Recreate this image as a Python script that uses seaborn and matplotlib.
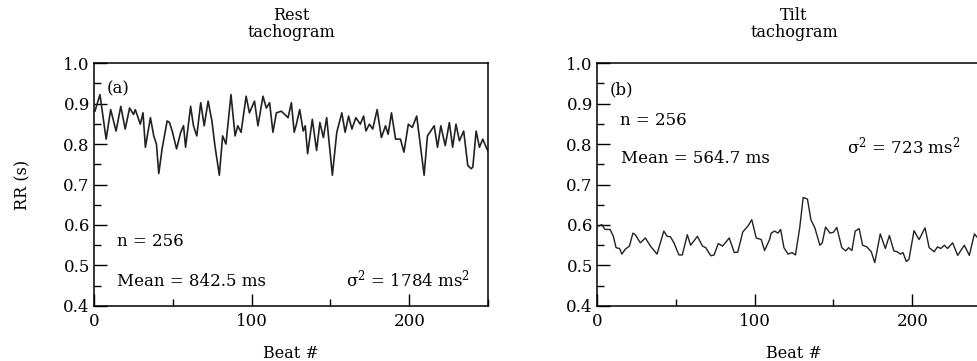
import matplotlib
matplotlib.use("Agg")
import matplotlib.pyplot as plt
from matplotlib.ticker import MultipleLocator, FormatStrFormatter
import seaborn as sns

# RR intervals (s), beat index vs value
rest_beat = [0.6, 3.8, 7.7, 10.6, 14, 17, 19.8, 22.6, 25.1, 26.2, 29.4, 31.1, 32.6,
             35.8, 37.9, 39.6, 41.1, 43.2, 46.4, 47.9, 49.6, 52.4, 55, 56.8, 58.1,
             61.3, 63.1, 65.2, 67.7, 69.9, 72.4, 74.8, 76.7, 79.5, 81.6, 83.7, 86.9,
             89.5, 91.2, 93.3, 96.5, 98.6, 101.8, 104, 107.2, 109.3, 111.4, 113.5,
             115.7, 118.8, 121, 123.1, 125.2, 127, 128.4, 130.5, 132.7, 134, 135.5,
             138.5, 141.2, 143.3, 145.5, 147.6, 151.2, 154, 157.2, 159.3, 161.5,
             163.6, 166.1, 168.9, 171, 172.5, 174.7, 176.8, 179.6, 182.3, 184.9,
             186.6, 188.7, 191.3, 194.4, 196.6, 199.4, 201.9, 204.7, 209.4, 211.5,
             215.8, 217.9, 220, 222.8, 225.4, 227.5, 229.6, 231.8, 234.5, 237.1,
             239.2, 240.3, 242.4, 244.5, 246.6, 249, 251]
rest_rr = [0.881, 0.922, 0.812, 0.885, 0.832, 0.893, 0.837, 0.889, 0.873, 0.885,
           0.849, 0.877, 0.792, 0.865, 0.820, 0.800, 0.727, 0.788, 0.857, 0.853,
           0.832, 0.788, 0.829, 0.845, 0.792, 0.893, 0.845, 0.820, 0.902, 0.845,
           0.906, 0.857, 0.796, 0.723, 0.820, 0.800, 0.922, 0.820, 0.845, 0.829,
           0.918, 0.877, 0.906, 0.845, 0.918, 0.889, 0.902, 0.829, 0.877,
           0.881, 0.873, 0.865, 0.902, 0.829, 0.849, 0.885, 0.832, 0.845, 0.776,
           0.861, 0.784, 0.853, 0.816, 0.865, 0.723, 0.829, 0.877, 0.829, 0.869,
           0.837, 0.865, 0.849, 0.869, 0.832, 0.849, 0.837, 0.885, 0.816, 0.845,
           0.824, 0.877, 0.812, 0.812, 0.780, 0.849, 0.841, 0.869, 0.723, 0.820,
           0.845, 0.792, 0.845, 0.796, 0.853, 0.792, 0.849, 0.808, 0.832, 0.747,
           0.739, 0.743, 0.832, 0.792, 0.812, 0.790, 0.776]

tilt_beat = [0.9, 3, 5.1, 8.3, 10.4, 12.1, 14.3, 15.8, 17.9, 20.6, 22.8, 24.3, 27.5,
             30.7, 33.9, 38.1, 42.4, 44.5, 46.6, 48.8, 52, 54.1, 57.3, 59.4, 63.7,
             66.9, 69, 72.2, 74.3, 76.9, 79.7, 83.9, 87.1, 89.3, 92.5, 95.7, 98.2,
             101, 104.2, 106.3, 109.5,
             110.5, 112.7, 114.8, 116.5, 118.6, 121.2, 123.7, 125.9, 128.6, 130.8,
             133.5, 135.7, 138.2, 141.4, 142.9, 145, 147.8, 150, 152.1, 155.3,
             157.8, 159.6, 161.7, 163.8, 166.3, 168.5, 171.2, 174, 176.2, 179.7,
             182.9, 185.5, 188.3, 190.4, 192.5, 194.1, 196.2, 197.9, 201.1, 204.3,
             208.1, 210.7, 213.9, 216, 218.1, 220.3, 222.4, 225.6, 228.8, 233,
             236.2, 239.4, 241.5, 243.5, 246, 250]
tilt_rr = [0.597, 0.601, 0.589, 0.589, 0.572, 0.544, 0.542, 0.528, 0.540, 0.548,
           0.580, 0.576, 0.556, 0.568, 0.548, 0.528, 0.585, 0.572, 0.571, 0.556,
           0.526, 0.526, 0.576, 0.550, 0.572, 0.548, 0.544, 0.524, 0.526, 0.554,
           0.548, 0.568, 0.532, 0.533, 0.583, 0.597, 0.613, 0.568, 0.564, 0.537,
           0.564,
           0.580, 0.585, 0.580, 0.589, 0.544, 0.528, 0.532, 0.526, 0.593, 0.668,
           0.664, 0.613, 0.593, 0.550, 0.556, 0.595, 0.580, 0.582, 0.594, 0.544,
           0.536, 0.544, 0.537, 0.585, 0.591, 0.550, 0.546, 0.534, 0.507, 0.578,
           0.542, 0.574, 0.536, 0.534, 0.528, 0.532, 0.510, 0.515, 0.586, 0.564,
           0.593, 0.544, 0.534, 0.546, 0.542, 0.550, 0.542, 0.556, 0.525, 0.550,
           0.525, 0.578, 0.568, 0.560, 0.575, 0.550]

titles = ["Rest\ntachogram", "Tilt\ntachogram"]
tags = ["(a)", "(b)"]
n_text = ["n = 256", "n = 256"]
mean_text = ["Mean = 842.5 ms", "Mean = 564.7 ms"]
var_text = ["σ$^{2}$ = 1784 ms$^{2}$", "σ$^{2}$ = 723 ms$^{2}$"]

sns.set_style("ticks")
plt.rcParams["font.family"] = ["DejaVu Serif"]
plt.rcParams["mathtext.fontset"] = "dejavuserif"
plt.rcParams["font.size"] = 11
plt.rcParams["text.color"] = "black"
plt.rcParams["axes.labelcolor"] = "black"
plt.rcParams["xtick.color"] = "black"
plt.rcParams["ytick.color"] = "black"

fig = plt.figure(figsize=(9.78, 3.61), dpi=100)
ax1 = fig.add_axes([0.0961, 0.1524, 0.403, 0.673])
ax2 = fig.add_axes([0.6104, 0.1524, 0.403, 0.673])

sns.lineplot(x=rest_beat, y=rest_rr, ax=ax1, color="#222222", linewidth=1.2)
sns.lineplot(x=tilt_beat, y=tilt_rr, ax=ax2, color="#222222", linewidth=1.0)

# text positions: (x, y) in data units for tag, n, mean, variance
text_pos = [
    [(8, 0.926), (14.5, 0.547), (14.5, 0.449), (160, 0.449)],
    [(8, 0.923), (14.3, 0.847), (15.3, 0.752), (158.5, 0.777)],
]

for i, ax in enumerate([ax1, ax2]):
    ax.set_xlim(0, 250)
    ax.set_ylim(0.4, 1.0)
    ax.xaxis.set_major_locator(MultipleLocator(100))
    ax.xaxis.set_minor_locator(MultipleLocator(50))
    ax.yaxis.set_major_locator(MultipleLocator(0.1))
    ax.yaxis.set_minor_locator(MultipleLocator(0.05))
    ax.yaxis.set_major_formatter(FormatStrFormatter("%.1f"))
    ax.tick_params(which="major", direction="in", length=9, width=1,
                   labelsize=12, color="black", labelcolor="black")
    ax.tick_params(which="minor", direction="in", length=5, width=1, color="black")
    ax.tick_params(axis="x", pad=5)
    ax.tick_params(axis="y", pad=3)
    for sp in ax.spines.values():
        sp.set_visible(True)
        sp.set_color("black")
        sp.set_linewidth(1.1)
    ax.set_title(titles[i], fontsize=11.5, linespacing=0.95, pad=19, color="black")
    ax.set_xlabel("Beat #", fontsize=11.5, labelpad=11)
    p = text_pos[i]
    ax.text(p[0][0], p[0][1], tags[i], fontsize=12, va="baseline")
    ax.text(p[1][0], p[1][1], n_text[i], fontsize=12, va="baseline")
    ax.text(p[2][0], p[2][1], mean_text[i], fontsize=12, va="baseline")
    ax.text(p[3][0], p[3][1], var_text[i], fontsize=12, va="baseline")

ax1.set_ylabel("RR (s)", fontsize=11.5)
ax1.yaxis.set_label_coords(-0.16, 0.5)
ax2.set_ylabel("")

fig.savefig("out.png", dpi=100)
